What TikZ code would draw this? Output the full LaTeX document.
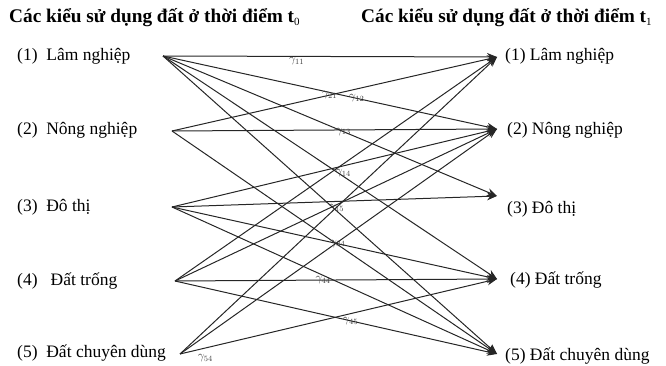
\documentclass[tikz,border=0pt]{standalone}
\usepackage{fontspec}
\setmainfont{Liberation Serif}
\usetikzlibrary{arrows.meta}
\begin{document}
\begin{tikzpicture}[x=1pt,y=-1pt,
  title/.style={font=\bfseries\fontsize{19.3}{21}\selectfont,anchor=west,inner sep=0pt},
  item/.style={font=\fontsize{17.5}{19}\selectfont,anchor=west,inner sep=0pt},
  flow/.style={draw=black!85,line width=1pt,-{Stealth[length=10pt,width=8pt]}},
  rate/.style={font=\fontsize{12}{13}\selectfont,inner sep=0pt,text=black!75}]
\useasboundingbox (0,0) rectangle (666,366);

% column headings
\node[title] (h0) at (9,18) {Các kiểu sử dụng đất ở thời điểm t\textsubscript{\normalfont\fontsize{11}{11}\selectfont 0}};
\node[title] (h1) at (361,18) {Các kiểu sử dụng đất ở thời điểm t\textsubscript{\normalfont\fontsize{11}{11}\selectfont 1}};

% land-use types at t0
\node[item] (a1) at (17,56)  {(1)\ \ Lâm nghiệp};
\node[item] (a2) at (17,130) {(2)\ \ Nông nghiệp};
\node[item] (a3) at (17,207) {(3)\ \ Đô thị};
\node[item] (a4) at (17,281) {(4)\ \ \ Đất trống};
\node[item] (a5) at (17,353) {(5)\ \ Đất chuyên dùng};

% land-use types at t1
\node[item] (b1) at (505,56)  {(1) Lâm nghiệp};
\node[item] (b2) at (507,130) {(2) Nông nghiệp};
\node[item] (b3) at (507,209) {(3) Đô thị};
\node[item] (b4) at (510,280) {(4) Đất trống};
\node[item] (b5) at (505,356) {(5) Đất chuyên dùng};

% connection points
\coordinate (L1) at (163,56);
\coordinate (L2) at (172,131);
\coordinate (L3) at (172,207);
\coordinate (L4) at (175,281);
\coordinate (L5) at (180,354);
\coordinate (R1) at (497,57);
\coordinate (R2) at (497,129);
\coordinate (R3) at (497,196);
\coordinate (R4) at (497,279);
\coordinate (R5) at (497,354);

% transitions
\draw[flow] (L1) -- node[rate,pos=0.40,yshift=-5pt] {$\gamma_{11}$} (R1);
\draw[flow] (L1) -- node[rate,pos=0.58] {$\gamma_{12}$} (R2);
\draw[flow] (L1) -- node[rate,pos=0.54] {$\gamma_{13}$} (R3);
\draw[flow] (L1) -- node[rate,pos=0.54,yshift=3pt] {$\gamma_{14}$} (R4);
\draw[flow] (L1) -- node[rate,pos=0.52,yshift=3pt] {$\gamma_{15}$} (R5);

\draw[flow] (L2) -- node[rate,pos=0.485] {$\gamma_{21}$} (R1);
\draw[flow] (L2) -- (R2);
\draw[flow] (L2) -- (R5);

\draw[flow] (L3) -- (R2);
\draw[flow] (L3) -- (R3);
\draw[flow] (L3) -- node[rate,pos=0.51] {$\gamma_{34}$} (R4);
\draw[flow] (L3) -- (R5);

\draw[flow] (L4) -- (R1);
\draw[flow] (L4) -- (R2);
\draw[flow] (L4) -- node[rate,pos=0.46] {$\gamma_{44}$} (R4);
\draw[flow] (L4) -- node[rate,pos=0.545] {$\gamma_{45}$} (R5);

\draw[flow] (L5) -- (R1);
\draw[flow] (L5) -- (R2);
\draw[flow] (L5) -- node[rate,pos=0.08,yshift=-10pt] {$\gamma_{54}$} (R4);
\end{tikzpicture}
\end{document}
